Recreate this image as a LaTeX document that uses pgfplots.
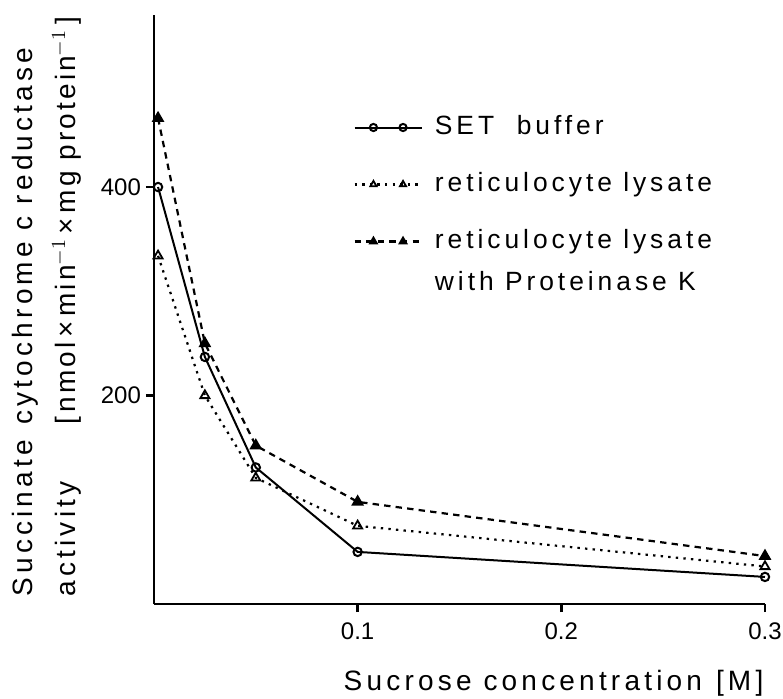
\documentclass[border=0pt]{standalone}
\usepackage{fontspec}
\setmainfont{Liberation Sans}[LetterSpace=15]
\newfontfamily\tickfont{Liberation Sans}
\newfontfamily\ylabtwo{Liberation Sans}[LetterSpace=11]
\usepackage{pgfplots}
\pgfplotsset{compat=1.18}
\begin{document}
\begin{tikzpicture}
\begin{axis}[
  scale only axis, width=305.5pt, height=294.5pt,
  xmin=0, xmax=0.3, ymin=0, ymax=565,
  axis x line*=bottom, axis y line*=left, axis line style={-, line width=1.3pt},
  xtick={0.1,0.2,0.3}, xticklabels={0.1,0.2,0.3},
  ytick={200,400}, yticklabels={200,400},
  tick align=outside, major tick length=4pt,
  tick style={line width=1.2pt, black},
  /pgf/number format/assume math mode=true,
  ticklabel style={font=\tickfont\fontsize{12}{13}\selectfont},
  xticklabel style={yshift=-2pt},
  yticklabel style={xshift=1pt},
  clip=false,
  xlabel={Sucrose concentration\hspace{0.5em}[M]},
  xlabel style={at={(axis description cs:0.998,-0.146)}, anchor=base east, inner sep=0pt, font=\fontsize{14}{16}\selectfont},
  ylabel={\begin{tabular}{@{}l@{\hspace{0.55em}}l@{}}Succinate & cytochrome c reductase\\[5pt] activity & {\ylabtwo[\,nmol\,×\,min$^{-1}$\,×\,mg\ protein$^{-1}$\,]}\end{tabular}},
  ylabel style={at={(axis description cs:-0.236,0.012)}, anchor=north west, inner sep=0pt, font=\fontsize{14}{16}\selectfont},
  legend image code/.code={\draw[mark repeat=2,mark phase=2,#1,mark size=1.8pt] plot coordinates {(0cm,0cm) (0.33cm,0cm) (0.59cm,0cm) (0.85cm,0cm) (1.18cm,0cm)};},
  legend style={at={(axis description cs:0.326,0.836)}, anchor=north west, draw=none, fill=none,
    font=\fontsize{13.2}{15}\selectfont, row sep=13pt, column sep=4pt, inner sep=0pt,
    nodes={text height=9pt, text depth=2.5pt, inner sep=2pt}},
  legend cell align=left,
]
\addplot[black, line width=1pt, mark=o, mark size=2.1pt, mark options={solid, fill=white}]
  coordinates {(0.002,400) (0.025,237) (0.05,131) (0.1,50) (0.3,26)};
\addlegendentry{SET~~buffer}
\addplot[black, line width=1.1pt, dash pattern=on 1.2pt off 2.6pt, mark=triangle, mark size=2.6pt, mark options={solid, fill=white, line width=0.9pt}]
  coordinates {(0.002,334) (0.025,200) (0.05,121) (0.1,75) (0.3,36)};
\addlegendentry{reticulocyte lysate}
\addplot[black, line width=1.1pt, dash pattern=on 3.2pt off 2.6pt, mark=triangle*, mark size=2.6pt, mark options={solid}]
  coordinates {(0.002,466) (0.025,250) (0.05,152) (0.1,98) (0.3,46)};
\addlegendentry{reticulocyte lysate}
\addlegendimage{empty legend}
\addlegendentry[text height=1.5pt]{with Proteinase K}
\coordinate (bbll) at (axis description cs:-0.252,-0.1596);
\coordinate (bbur) at (axis description cs:1.0295,1.0255);
\end{axis}
\pgfresetboundingbox
\path[use as bounding box] (bbll) rectangle (bbur);
\end{tikzpicture}
\end{document}
